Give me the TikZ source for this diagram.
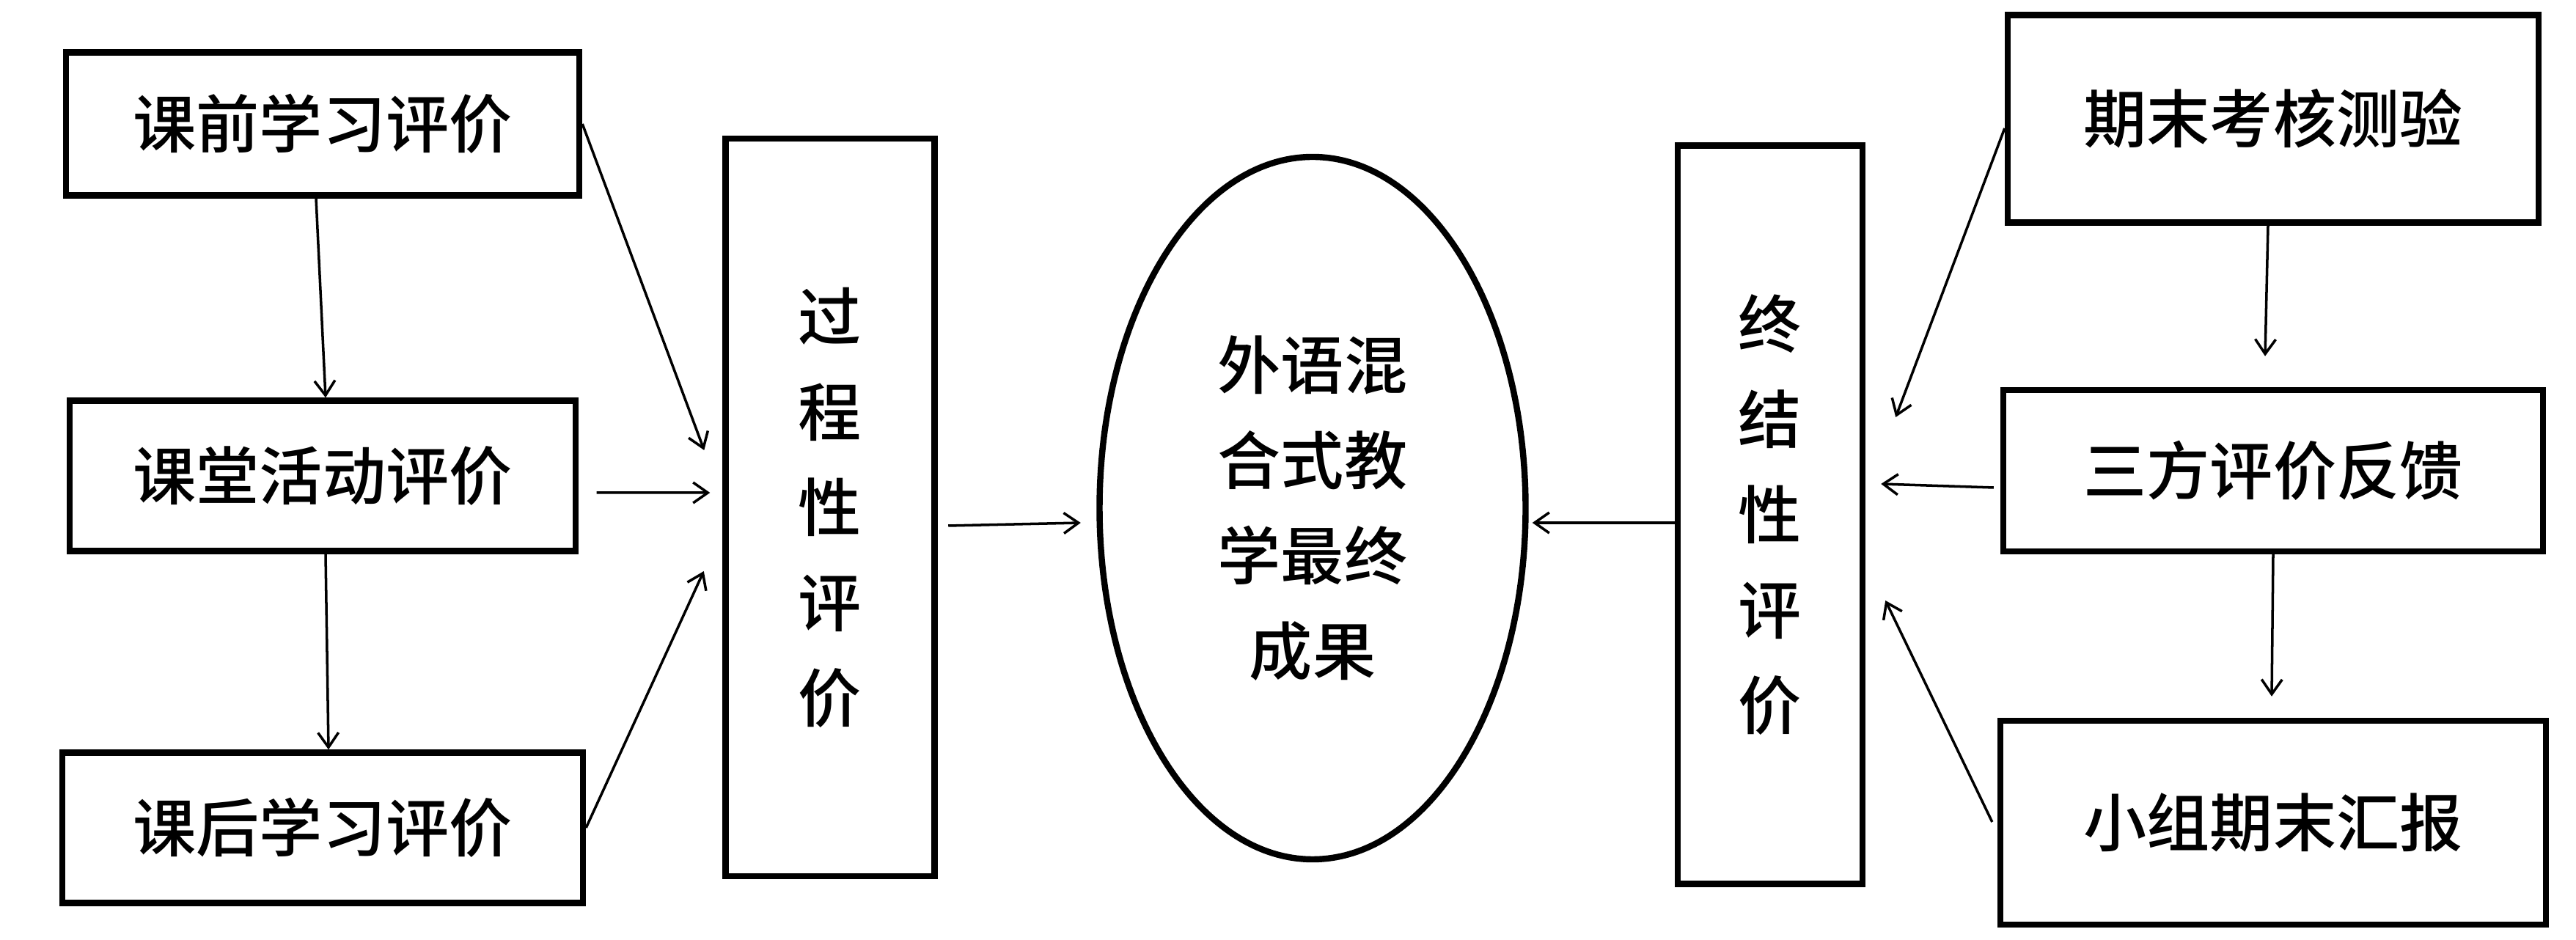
\documentclass[tikz,border=0pt]{standalone}
\usepackage{fontspec}
\newfontfamily\cjk{Noto Sans CJK SC Medium}
\usetikzlibrary{arrows.meta,shapes.geometric}

\begin{document}
\begin{tikzpicture}[->,>={Straight Barb[length=2mm,width=2.8mm]},line width=1pt,node distance=4.8cm,
    eval node/.style={draw,line width=2.4pt,inner sep=0pt,font=\cjk\fontsize{24.5}{37}\selectfont},
    stack node/.style={eval node,align=center},
    goal node/.style={eval node,ellipse,align=center,minimum width=5.81cm,minimum height=9.58cm}]
                \useasboundingbox (0,0) rectangle (35.13,12.82);

                \node[eval node,minimum width=7.0cm,minimum height=1.95cm] (pre) at (4.40,11.13) {课前学习评价};
                \node[eval node,minimum width=6.9cm,minimum height=2.05cm] (class) [below of=pre] {课堂活动评价};
                \node[eval node,minimum width=7.1cm,minimum height=2.05cm] (post) [below of=class] {课后学习评价};
                \node[stack node,minimum width=2.85cm,minimum height=10.06cm] (process) at (11.32,5.90) {过\\程\\性\\评\\价};
                \node[goal node] (result) at (17.90,5.89) {外语混\\合式教\\学最终\\成果};
                \node[stack node,minimum width=2.52cm,minimum height=10.07cm] (summative) at (24.14,5.80) {终\\结\\性\\评\\价};
                \node[eval node,minimum width=7.24cm,minimum height=2.83cm] (exam) at (31.0,11.2) {期末考核测验};
                \node[eval node,minimum width=7.36cm,minimum height=2.2cm] (feedback) [below of=exam] {三方评价反馈};
                \node[eval node,minimum width=7.44cm,minimum height=2.78cm] (report) [below of=feedback] {小组期末汇报};

                \path
                    ([xshift=-0.09cm]pre.south) edge ([xshift=0.04cm]class.north)
                    ([xshift=0.04cm]class.south) edge ([xshift=0.08cm]post.north)
                    (pre.east) edge ([shift={(-0.25,0.78)}]process.west)
                    ([shift={(0.245,-0.23)}]class.east) edge ([shift={(-0.17,0.2)}]process.west)
                    (post.east) edge ([shift={(-0.255,-0.87)}]process.west)
                    ([shift={(0.145,-0.25)}]process.east) edge ([shift={(-0.215,-0.2)}]result.west)
                    ([yshift=-0.11cm]summative.west) edge ([shift={(0.05,-0.2)}]result.east)
                    ([yshift=-0.13cm]exam.west) edge ([shift={(0.41,1.33)}]summative.east)
                    ([shift={(-0.09,-0.23)}]feedback.west) edge ([shift={(0.21,0.42)}]summative.east)
                    ([shift={(-0.07,0.01)}]report.west) edge ([shift={(0.27,-1.17)}]summative.east)
                    ([xshift=-0.07cm]exam.south) edge ([shift={(-0.11,0.42)}]feedback.north)
                    (feedback.south) edge ([shift={(-0.02,0.29)}]report.north)
                ;

            \end{tikzpicture}
\end{document}
